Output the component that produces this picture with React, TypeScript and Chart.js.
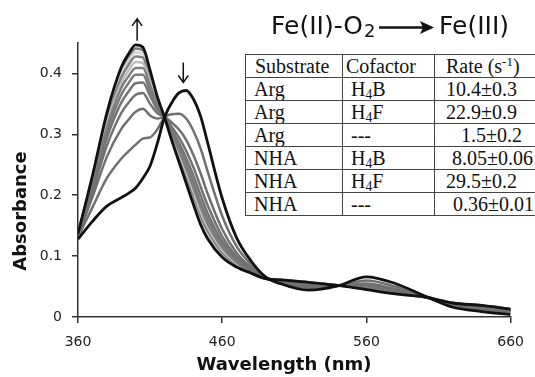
import React, { useEffect, useRef } from "react";
import { Chart, registerables } from "chart.js";

Chart.register(...registerables);

// ---------- data ----------
const wavelengths = [360, 370, 380, 390, 395, 400, 405, 410, 415, 420, 425, 430, 435, 440, 445, 450, 460, 470, 480, 490, 500, 520, 540, 560, 580, 600, 620, 640, 660];

// Fe(II)-O2 (start, black)
const startSpectrum = [0.128, 0.157, 0.182, 0.196, 0.203, 0.212, 0.228, 0.248, 0.285, 0.328, 0.352, 0.368, 0.372, 0.358, 0.330, 0.285, 0.195, 0.130, 0.092, 0.066, 0.055, 0.044, 0.051, 0.066, 0.055, 0.035, 0.016, 0.009, 0.004];
// Fe(III) (end, black)
const endSpectrum = [0.137, 0.232, 0.335, 0.410, 0.432, 0.447, 0.443, 0.405, 0.362, 0.328, 0.290, 0.255, 0.220, 0.185, 0.152, 0.128, 0.098, 0.082, 0.072, 0.063, 0.061, 0.057, 0.052, 0.045, 0.038, 0.033, 0.023, 0.019, 0.013];

// intermediate spectra (gray)
const scan1 = [0.131, 0.180, 0.228, 0.260, 0.272, 0.283, 0.293, 0.295, 0.308, 0.328, 0.333, 0.334, 0.326, 0.306, 0.277, 0.238, 0.166, 0.116, 0.086, 0.065, 0.057, 0.048, 0.051, 0.060, 0.050, 0.034, 0.018, 0.012, 0.007];
const scan2 = [0.133, 0.197, 0.263, 0.309, 0.324, 0.337, 0.342, 0.331, 0.326, 0.328, 0.319, 0.308, 0.291, 0.266, 0.236, 0.202, 0.144, 0.105, 0.081, 0.064, 0.058, 0.051, 0.052, 0.055, 0.046, 0.034, 0.020, 0.014, 0.009];
const scan3 = [0.134, 0.206, 0.281, 0.335, 0.352, 0.365, 0.368, 0.350, 0.335, 0.328, 0.312, 0.295, 0.273, 0.246, 0.214, 0.183, 0.132, 0.099, 0.079, 0.064, 0.059, 0.052, 0.052, 0.052, 0.044, 0.034, 0.021, 0.016, 0.010];
const scan4 = [0.135, 0.212, 0.294, 0.352, 0.370, 0.384, 0.385, 0.363, 0.341, 0.328, 0.307, 0.286, 0.261, 0.232, 0.200, 0.170, 0.124, 0.095, 0.077, 0.064, 0.059, 0.053, 0.052, 0.051, 0.043, 0.034, 0.021, 0.016, 0.011];
const scan5 = [0.135, 0.216, 0.303, 0.365, 0.384, 0.398, 0.398, 0.372, 0.346, 0.328, 0.303, 0.279, 0.252, 0.221, 0.189, 0.161, 0.118, 0.092, 0.076, 0.064, 0.060, 0.054, 0.052, 0.049, 0.042, 0.033, 0.022, 0.017, 0.011];
const scan6 = [0.136, 0.220, 0.311, 0.376, 0.395, 0.409, 0.409, 0.380, 0.350, 0.328, 0.300, 0.273, 0.244, 0.213, 0.181, 0.153, 0.114, 0.090, 0.075, 0.063, 0.060, 0.055, 0.052, 0.048, 0.041, 0.033, 0.022, 0.017, 0.012];
const scan7 = [0.136, 0.223, 0.317, 0.384, 0.405, 0.419, 0.417, 0.386, 0.353, 0.328, 0.297, 0.269, 0.238, 0.206, 0.173, 0.147, 0.110, 0.088, 0.074, 0.063, 0.060, 0.055, 0.052, 0.048, 0.040, 0.033, 0.022, 0.018, 0.012];
const scan8 = [0.136, 0.226, 0.323, 0.393, 0.414, 0.428, 0.426, 0.392, 0.356, 0.328, 0.295, 0.264, 0.232, 0.199, 0.166, 0.141, 0.106, 0.086, 0.074, 0.063, 0.061, 0.056, 0.052, 0.047, 0.039, 0.033, 0.022, 0.018, 0.012];
const scan9 = [0.137, 0.228, 0.327, 0.399, 0.421, 0.435, 0.432, 0.397, 0.358, 0.328, 0.293, 0.261, 0.228, 0.194, 0.161, 0.136, 0.103, 0.084, 0.073, 0.063, 0.061, 0.056, 0.052, 0.046, 0.039, 0.033, 0.023, 0.018, 0.013];
const scan10 = [0.137, 0.230, 0.331, 0.405, 0.426, 0.441, 0.438, 0.401, 0.360, 0.328, 0.292, 0.258, 0.224, 0.189, 0.156, 0.132, 0.100, 0.083, 0.073, 0.063, 0.061, 0.057, 0.052, 0.046, 0.038, 0.033, 0.023, 0.019, 0.013];

const grayScans = [scan1, scan2, scan3, scan4, scan5, scan6, scan7, scan8, scan9, scan10];

// peak wavelengths marked with arrows (up = growing, down = decaying)
const growPeak = 401;
const decayPeak = 433;

// table
const tableHeaders = ["Substrate", "Cofactor", "Rate"];
const substrates = ["Arg", "Arg", "Arg", "NHA", "NHA", "NHA"];
const cofactors = ["H4B", "H4F", "---", "H4B", "H4F", "---"];
const rates = ["10.4±0.3", "22.9±0.9", "1.5±0.2", "8.05±0.06", "29.5±0.2", "0.36±0.01"];

// axis text
const xTitle = "Wavelength (nm)";
const yTitle = "Absorbance";
const xTicks = [360, 460, 560, 660];
const yTicks = [0, 0.1, 0.2, 0.3, 0.4];

// ---------- styles (not data) ----------
const grayColors = ["#707070", "#707070", "#727272", "#747474", "#7a7a7a", "#808080", "#bcbcbc", "#808080", "#d2d2d2", "#7a7a7a"];
const rateIndent = [11, 11, 26, 17, 11, 18];

const FONT = '"DejaVu Sans", Verdana, sans-serif';

function withSub(s: string) {
  const m = s.match(/^(H)(\d)(.*)$/);
  if (!m) return s;
  return (
    <>
      {m[1]}
      <span style={{ fontSize: "0.68em", verticalAlign: "-0.25em", lineHeight: 0 }}>{m[2]}</span>
      {m[3]}
    </>
  );
}

export default function App() {
  const ref = useRef<HTMLCanvasElement | null>(null);

  useEffect(() => {
    if (!ref.current) return;
    const pts = (arr: number[]) => wavelengths.map((x, i) => ({ x, y: arr[i] }));

    const datasets: any[] = [
      { label: "Fe(II)-O2", data: pts(startSpectrum), borderColor: "#111", borderWidth: 2.8, order: 0 },
      { label: "Fe(III)", data: pts(endSpectrum), borderColor: "#111", borderWidth: 2.8, order: 0 },
      ...grayScans.map((s, i) => ({
        label: "scan " + (i + 1),
        data: pts(s),
        borderColor: grayColors[i],
        borderWidth: 2.5,
        order: 1,
      })),
    ].map((d) => ({ ...d, pointRadius: 0, fill: false, cubicInterpolationMode: "monotone" }));

    const overlay = {
      id: "overlay",
      afterDraw(chart: any) {
        const ctx = chart.ctx as CanvasRenderingContext2D;
        const xs = chart.scales.x;
        const ys = chart.scales.y;
        ctx.save();
        ctx.fillStyle = "#111";
        ctx.strokeStyle = "#111";

        // axis titles
        ctx.font = `bold 18px ${FONT}`;
        ctx.textAlign = "center";
        ctx.textBaseline = "middle";
        ctx.fillText(xTitle, 284, 365);
        ctx.save();
        ctx.translate(21, 211);
        ctx.rotate(-Math.PI / 2);
        ctx.fillText(yTitle, 0, 0);
        ctx.restore();

        // reaction title
        ctx.textAlign = "left";
        ctx.textBaseline = "alphabetic";
        ctx.font = `25px ${FONT}`;
        const left = "Fe(II)-O";
        ctx.fillText(left, 271, 34);
        const w = ctx.measureText(left).width;
        ctx.font = `18px ${FONT}`;
        ctx.fillText("2", 271 + w + 1, 37);
        ctx.lineWidth = 2.6;
        ctx.beginPath();
        ctx.moveTo(379, 27.5);
        ctx.lineTo(424, 27.5);
        ctx.stroke();
        ctx.beginPath();
        ctx.moveTo(434, 27.5);
        ctx.lineTo(420, 21);
        ctx.lineTo(423, 27.5);
        ctx.lineTo(420, 34);
        ctx.closePath();
        ctx.fill();
        ctx.font = `25px ${FONT}`;
        ctx.fillText("Fe(III)", 439, 34);

        // peak arrows
        ctx.lineWidth = 1.5;
        const ux = xs.getPixelForValue(growPeak);
        const uy = ys.getPixelForValue(Math.max(...endSpectrum));
        ctx.beginPath();
        ctx.moveTo(ux, uy - 4);
        ctx.lineTo(ux, uy - 26);
        ctx.moveTo(ux - 5, uy - 19);
        ctx.lineTo(ux, uy - 26);
        ctx.lineTo(ux + 5, uy - 19);
        ctx.stroke();
        const dx = xs.getPixelForValue(decayPeak);
        const dy = ys.getPixelForValue(Math.max(...startSpectrum));
        ctx.beginPath();
        ctx.moveTo(dx, dy - 28);
        ctx.lineTo(dx, dy - 8);
        ctx.moveTo(dx - 5, dy - 15);
        ctx.lineTo(dx, dy - 8);
        ctx.lineTo(dx + 5, dy - 15);
        ctx.stroke();
        ctx.restore();
      },
    };

    const chart = new Chart(ref.current, {
      type: "line",
      data: { datasets },
      options: {
        responsive: false,
        animation: false,
        devicePixelRatio: 1,
        layout: { padding: { left: 8, top: 43, right: 17, bottom: 0 } },
        plugins: { legend: { display: false }, tooltip: { enabled: false }, title: { display: false } },
        scales: {
          x: {
            type: "linear",
            min: xTicks[0],
            max: xTicks[xTicks.length - 1],
            afterBuildTicks: (s: any) => {
              s.ticks = xTicks.map((v) => ({ value: v }));
            },
            afterFit: (s: any) => {
              s.height = 60;
            },
            ticks: { font: { family: FONT, size: 14 }, color: "#222", padding: 11, maxRotation: 0, autoSkip: false },
            grid: { drawOnChartArea: false, drawTicks: true, tickLength: 6, color: "#333", lineWidth: 1.5 },
            border: { display: true, color: "#333", width: 1.5 },
          },
          y: {
            min: 0,
            max: 0.45,
            afterBuildTicks: (s: any) => {
              s.ticks = yTicks.map((v) => ({ value: v }));
            },
            afterFit: (s: any) => {
              s.width = 70;
            },
            ticks: {
              font: { family: FONT, size: 14 },
              color: "#222",
              padding: 10,
              callback: (v: any) => String(Number(Number(v).toFixed(1))),
            },
            grid: { drawOnChartArea: false, drawTicks: true, tickLength: 6, color: "#333", lineWidth: 1.5 },
            border: { display: true, color: "#333", width: 1.5 },
          },
        },
      },
      plugins: [overlay],
    } as any);

    return () => chart.destroy();
  }, []);

  const cell: React.CSSProperties = {
    border: "1px solid #444",
    padding: 0,
    height: 22,
    lineHeight: "22px",
    whiteSpace: "nowrap",
    overflow: "hidden",
    verticalAlign: "middle",
  };

  return (
    <div style={{ position: "fixed", left: 0, top: 0, width: 535, height: 377, background: "#fff", overflow: "hidden" }}>
      <canvas ref={ref} width={535} height={377} style={{ position: "absolute", left: 0, top: 0, width: 535, height: 377 }} />
      <table
        style={{
          position: "absolute",
          left: 245,
          top: 54,
          borderCollapse: "collapse",
          tableLayout: "fixed",
          width: 291,
          fontFamily: '"Liberation Serif", "Times New Roman", serif',
          fontSize: 20,
          color: "#111",
          background: "#fff",
        }}
      >
        <colgroup>
          <col style={{ width: 97 }} />
          <col style={{ width: 92 }} />
          <col style={{ width: 102 }} />
        </colgroup>
        <tbody>
          <tr>
            <td style={{ ...cell, paddingLeft: 9 }}>{tableHeaders[0]}</td>
            <td style={{ ...cell, paddingLeft: 3 }}>{tableHeaders[1]}</td>
            <td style={{ ...cell, paddingLeft: 11 }}>
              {tableHeaders[2]} (s
              <span style={{ fontSize: "0.65em", verticalAlign: "0.55em", lineHeight: 0 }}>-1</span>)
            </td>
          </tr>
          {substrates.map((s, i) => (
            <tr key={i}>
              <td style={{ ...cell, paddingLeft: 8 }}>{s}</td>
              <td style={{ ...cell, paddingLeft: 8 }}>{withSub(cofactors[i])}</td>
              <td style={{ ...cell, paddingLeft: rateIndent[i] }}>{rates[i]}</td>
            </tr>
          ))}
        </tbody>
      </table>
    </div>
  );
}
